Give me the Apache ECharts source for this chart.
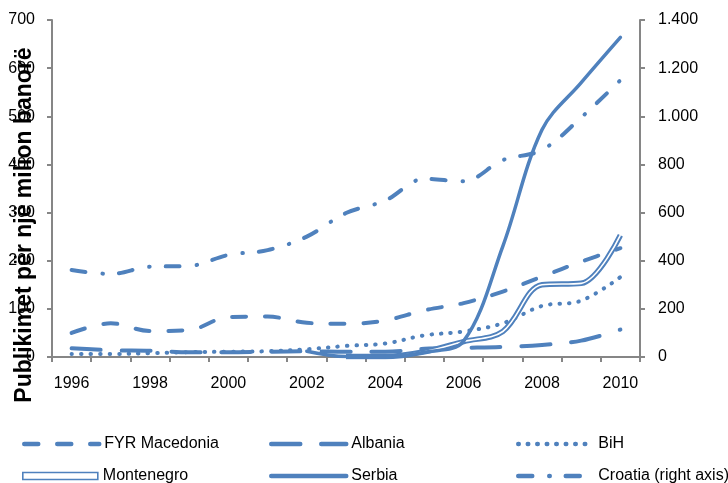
<!DOCTYPE html>
<html>
<head>
<meta charset="utf-8">
<script src="https://cdn.jsdelivr.net/npm/echarts@6/dist/echarts.min.js"></script>
<style>
  html, body { margin: 0; padding: 0; background: #fff; }
  #chart { width: 728px; height: 483px; }
</style>
</head>
<body>
<div id="chart"></div>
<script>
// Years on the category axis
const years = ['1996','1997','1998','1999','2000','2001','2002','2003','2004','2005','2006','2007','2008','2009','2010'];

// Publications per million inhabitants (left axis)
const macedonia  = [50, 70, 54, 56, 83, 84, 71, 69, 76, 97, 112, 136, 167, 198, 226];
const albania    = [18, 14, 13, 10, 10, 11, 12, 11, 11, 17, 19, 21, 25, 34, 57];
const bih        = [6, 6, 8, 10, 11, 12, 16, 23, 28, 45, 53, 70, 106, 117, 166];
const montenegro = [null, null, null, null, null, null, null, 1, 1, 11, 32, 53, 150, 153, 253];
const serbia     = [null, null, null, null, null, null, 12, 1, 1, 10, 33, 230, 472, 570, 664];

// Croatia, plotted against the right axis
const croatia    = [361, 345, 375, 378, 424, 444, 500, 598, 650, 740, 730, 818, 860, 995, 1150];

// Axis ticks
const leftTicks  = { min: 0, max: 700, interval: 100 };
const rightTicks = { min: 0, max: 1400, interval: 200 };

const BLUE = '#4F81BD';
const FONT = "'Liberation Sans', Arial, sans-serif";

// Dash patterns shared by the plotted lines and their legend keys
const DASH = {
  macedonia: [14, 19],
  albania: [29, 21],
  bih: [0.5, 9],
  croatia: [14, 17, 0.5, 16]
};

function lineSeries(name, data, lineStyle, extra) {
  return Object.assign({
    name: name,
    type: 'line',
    data: data,
    smooth: 0.35,
    symbol: 'none',
    showSymbol: false,
    connectNulls: false,
    lineStyle: Object.assign({ color: BLUE, width: 4, cap: 'round', join: 'round' }, lineStyle),
    itemStyle: { color: BLUE },
    emphasis: { disabled: true }
  }, extra || {});
}

// One legend entry per component so the entries sit on a 3 x 2 grid
function legendItem(left, top, item, dash, itemHeight) {
  return {
    orient: 'horizontal',
    left: left,
    top: top,
    padding: 0,
    itemWidth: 75,
    itemHeight: itemHeight || 14,
    selectedMode: false,
    itemStyle: { color: 'rgba(0,0,0,0)', borderColor: 'rgba(0,0,0,0)', borderWidth: 0 },
    lineStyle: { width: 4.5, type: dash || 'solid', cap: 'round' },
    textStyle: { fontFamily: FONT, fontSize: 16, color: '#000' },
    data: [item]
  };
}

const chart = echarts.init(document.getElementById('chart'), null, { renderer: 'canvas' });

chart.setOption({
  animation: false,
  backgroundColor: '#fff',
  grid: { left: 52, right: 88, top: 20, bottom: 126, containLabel: false },
  legend: [
    legendItem(22, 436, 'FYR Macedonia', DASH.macedonia),
    legendItem(269, 436, 'Albania', DASH.albania),
    legendItem(516, 436, 'BiH', DASH.bih),
    legendItem(22, 468, {
      name: 'Montenegro', icon: 'rect',
      itemStyle: { color: '#fff', borderColor: BLUE, borderWidth: 1.6 }
    }, null, 7),
    legendItem(269, 468, 'Serbia', 'solid'),
    legendItem(516, 468, 'Croatia (right axis)', DASH.croatia)
  ],
  graphic: [{
    type: 'text',
    x: 25,
    y: 225,
    rotation: Math.PI / 2,
    style: {
      text: 'Publikimet për një milion banorë',
      font: "bold 23px 'Liberation Sans', Arial, sans-serif",
      fill: '#000',
      textAlign: 'center',
      textVerticalAlign: 'middle'
    }
  }],
  xAxis: {
    type: 'category',
    data: years,
    boundaryGap: true,
    axisLine: { lineStyle: { color: '#868686', width: 2 } },
    axisTick: { show: true, interval: 0, length: 5, lineStyle: { color: '#868686', width: 2 } },
    axisLabel: { interval: 1, margin: 19, fontFamily: FONT, fontSize: 16, color: '#000' },
    splitLine: { show: false }
  },
  yAxis: [{
    type: 'value',
    position: 'left',
    min: leftTicks.min, max: leftTicks.max, interval: leftTicks.interval,
    axisLine: { show: true, lineStyle: { color: '#868686', width: 2 } },
    axisTick: { show: true, length: 5, lineStyle: { color: '#868686', width: 2 } },
    axisLabel: { margin: 17, fontFamily: FONT, fontSize: 16, color: '#000' },
    splitLine: { show: false }
  }, {
    type: 'value',
    position: 'right',
    min: rightTicks.min, max: rightTicks.max, interval: rightTicks.interval,
    axisLine: { show: true, lineStyle: { color: '#868686', width: 2 } },
    axisTick: { show: true, length: 5, lineStyle: { color: '#868686', width: 2 } },
    axisLabel: {
      margin: 18, fontFamily: FONT, fontSize: 16, color: '#000',
      formatter: v => String(v).replace(/\B(?=(\d{3})+(?!\d))/g, '.')
    },
    splitLine: { show: false }
  }],
  series: [
    lineSeries('FYR Macedonia', macedonia, { type: DASH.macedonia }),
    lineSeries('Albania', albania, { type: DASH.albania }),
    lineSeries('BiH', bih, { type: DASH.bih, width: 4 }),
    lineSeries('Montenegro', montenegro, { width: 5.5, cap: 'butt' }),
    lineSeries('Montenegro', montenegro, { width: 1.6, color: '#fff', cap: 'butt' }, { z: 3 }),
    lineSeries('Serbia', serbia, { width: 3.5 }),
    lineSeries('Croatia (right axis)', croatia, { type: DASH.croatia }, { yAxisIndex: 1 })
  ]
});
</script>
</body>
</html>
